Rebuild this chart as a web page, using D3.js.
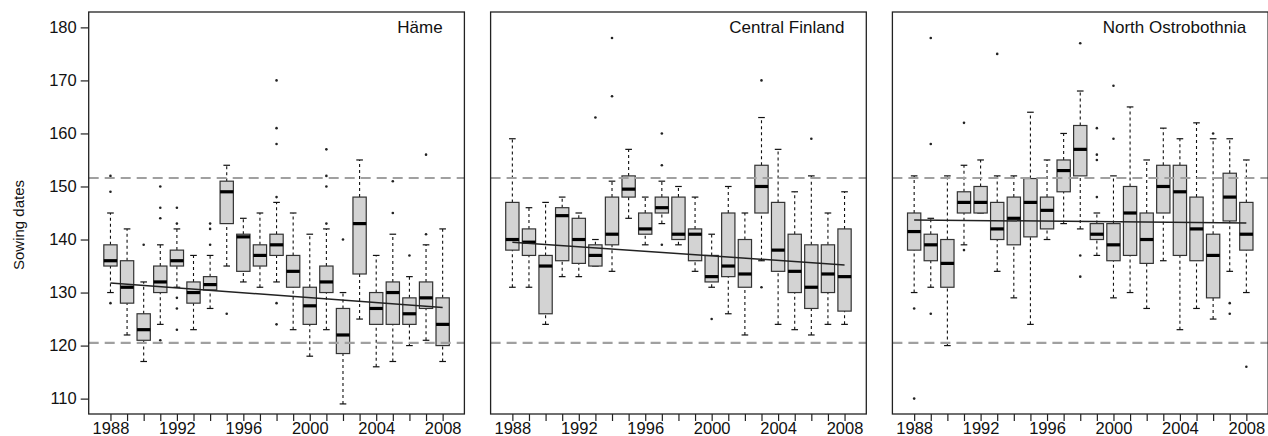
<!DOCTYPE html>
<html lang="en">
<head>
<meta charset="utf-8">
<title>Sowing dates</title>
<script src="https://cdn.jsdelivr.net/npm/d3@7"></script>
<style>
  body { margin: 0; background: #fff; }
  svg text { font-family: "Liberation Sans", Arial, sans-serif; fill: #111; }
  .axis path { display: none; }
  .axis line { stroke: #222; stroke-width: 1.2; }
  .axis text { font-size: 16.5px; }
</style>
</head>
<body>
<div class="chart"></div>
<script>
// years on the x axis
var years = d3.range(1988, 2009);
var yTicks = [110, 120, 130, 140, 150, 160, 170, 180];
var labelYears = [1988, 1992, 1996, 2000, 2004, 2008];
var refLines = [151.6, 120.5];

// box stats per year: [lower whisker, q1, median, q3, upper whisker]
var hameStats = [
  [130,135,136,139,145],[122,128,131,136,142],[117,121,123,126,132],[124,130,132,135,139],
  [131,135,136,138,142],[123,128,130,132,137],[127,130.5,131.5,133,137],[135,143,149,151,154],
  [132,134,140.5,141,144],[131,135,137,139,145],[132,137,139,141,147],[123,131,134,137,145],
  [118,124,127.5,131,141],[123,130,132,135,142],[109,118.5,122,127,130],[125,133.5,143,148,155],
  [116,124,127,130,137],[117,124,130,132,141],[120,124,126,129,133],[121,127,129,132,139],
  [117,120,124,129,142]
];
var hameOut = [
  [152,149,128],[],[139],[150,146,144,121],[146,143,129,127,123],[],[143,142,139],[126],
  [],[],[170,161,158,148,128,124],[],[],[157,152,150,143],[140],[],[],[151,145],[137],[156,141],[]
];
var hameTrend = [131.8, 127.2];

var centralStats = [
  [131,138,140,147,159],[131,137,139.5,142,146],[124,126,135,137,147],[133,136,144.5,146,148],
  [133,135.5,140,144,145],[135,135,137,139,140],[134,139,141,148,151],[144,148,149.5,152,157],
  [139,141,142,145,148],[143,145,146,148,151],[139,140,141,148,150],[134,136,141,142,148],
  [131,132,133,137,141],[126,133,135,145,150],[122,131,133.5,140,145],[136,145,150,154,163],
  [124,134,138,147,157],[123,130,134,141,149],[122,127,131,139,152],[124,130,133.5,139,145],
  [124,126.5,133,142,149]
];
var centralOut = [
  [],[],[],[],[],[163],[178,167],[],[],[160,154,139],[],[],[125],[],[],[170,131],[],[],[159],[],[]
];
var centralTrend = [139.5, 135.2];

var northStats = [
  [130,138,141.5,145,152],[131,136,139,141,144],[120,131,135.5,140,152],[139,145,147,149,154],
  [145,145,147,150,155],[134,140,142,147,152],[129,139,144,148,152],[124,140.5,147,151.5,164],
  [140,142,145.5,148,155],[143,149,153,155,160],[142,152,157,161.5,168],[137,140,141,143,145],
  [129,136,139,143,152],[130,137,145,150,165],[127,135.5,140,145,155],[136,145,150,154,161],
  [123,137,149,154,159],[127,136,142,148,162],[125,129,137,141,159],[134,143.5,148,152.5,159],
  [130,138,141,147,155]
];
var northOut = [
  [127,110],[178,158,126],[],[162,138],[],[175],[],[],[],[],[177,137,133],[161,156,155,148],
  [169,159],[],[],[],[],[],[160],[128,126],[116]
];
var northTrend = [143.7, 143.1];

var panels = [
  {name: "Häme", stats: hameStats, out: hameOut, trend: hameTrend},
  {name: "Central Finland", stats: centralStats, out: centralOut, trend: centralTrend},
  {name: "North Ostrobothnia", stats: northStats, out: northOut, trend: northTrend}
];

var w = 1268, h = 436;
var plotTop = 12, plotBottom = 414;
var panelW = 375.7;
var lefts = [88.7, 490.6, 892.4];

var svg = d3.select("div.chart").append("svg")
  .attr("width", w).attr("height", h)
  .style("display", "block");

var y = d3.scaleLinear().domain([107.1, 182.9]).range([plotBottom, plotTop]);

panels.forEach(function(p, k) {
  var x = d3.scaleLinear().domain([1986.69, 2009.31]).range([lefts[k], lefts[k] + panelW]);
  var unit = x(1989) - x(1988);
  var bw = unit * 0.8, sw = unit * 0.4;
  var g = svg.append("g");

  var box = g.selectAll(".box")
    .data(p.stats)
    .enter().append("g")
    .attr("class", "box");

  // whiskers
  box.append("line")
    .attr("x1", (d, i) => x(years[i])).attr("x2", (d, i) => x(years[i]))
    .attr("y1", d => y(d[3])).attr("y2", d => y(d[4]))
    .attr("stroke", "#111").attr("stroke-width", 1.1).attr("stroke-dasharray", "3,3");
  box.append("line")
    .attr("x1", (d, i) => x(years[i])).attr("x2", (d, i) => x(years[i]))
    .attr("y1", d => y(d[0])).attr("y2", d => y(d[1]))
    .attr("stroke", "#111").attr("stroke-width", 1.1).attr("stroke-dasharray", "3,3");
  // staples
  [0, 4].forEach(function(j) {
    box.append("line")
      .attr("x1", (d, i) => x(years[i]) - sw / 2).attr("x2", (d, i) => x(years[i]) + sw / 2)
      .attr("y1", d => y(d[j])).attr("y2", d => y(d[j]))
      .attr("stroke", "#111").attr("stroke-width", 1.2);
  });
  box.append("rect")
    .attr("x", (d, i) => x(years[i]) - bw / 2)
    .attr("width", bw)
    .attr("y", d => y(d[3]))
    .attr("height", d => y(d[1]) - y(d[3]))
    .attr("fill", "#d3d3d3").attr("stroke", "#333").attr("stroke-width", 1.2);
  box.append("line")
    .attr("x1", (d, i) => x(years[i]) - bw / 2).attr("x2", (d, i) => x(years[i]) + bw / 2)
    .attr("y1", d => y(d[2])).attr("y2", d => y(d[2]))
    .attr("stroke", "#000").attr("stroke-width", 3.2);

  // outliers
  p.out.forEach(function(vals, i) {
    g.selectAll(null).data(vals).enter().append("circle")
      .attr("cx", x(years[i])).attr("cy", d => y(d))
      .attr("r", 1.3).attr("fill", "#222");
  });

  // reference lines
  g.selectAll(".ref").data(refLines).enter().append("line")
    .attr("x1", lefts[k]).attr("x2", lefts[k] + panelW)
    .attr("y1", d => y(d)).attr("y2", d => y(d))
    .attr("stroke", "#a0a0a0").attr("stroke-width", 2.2).attr("stroke-dasharray", "10,6");

  // trend line
  g.append("line")
    .attr("x1", x(1988)).attr("x2", x(2008))
    .attr("y1", y(p.trend[0])).attr("y2", y(p.trend[1]))
    .attr("stroke", "#222").attr("stroke-width", 1.5);

  // frame
  g.append("rect")
    .attr("x", lefts[k]).attr("y", plotTop)
    .attr("width", panelW).attr("height", plotBottom - plotTop)
    .attr("fill", "none").attr("stroke", "#222").attr("stroke-width", 1.3);

  // x axis
  g.append("g").attr("class", "axis")
    .attr("transform", "translate(0," + plotBottom + ")")
    .call(d3.axisBottom(x).tickValues(years).tickSize(7).tickPadding(1)
      .tickFormat(d => labelYears.indexOf(d) >= 0 ? d : ""));

  // panel title
  g.append("text")
    .attr("x", x(2008)).attr("y", y(180)).attr("dy", "0.35em")
    .attr("text-anchor", "end").style("font-size", "17px")
    .text(p.name);

  if (k === 0) {
    g.append("g").attr("class", "axis")
      .attr("transform", "translate(" + lefts[0] + ",0)")
      .call(d3.axisLeft(y).tickValues(yTicks).tickSize(8).tickPadding(4));
    g.append("text")
      .attr("transform", "translate(18.5,225) rotate(-90)")
      .attr("text-anchor", "middle").attr("dy", "0.35em")
      .style("font-size", "15px")
      .text("Sowing dates");
  }
});
</script>
</body>
</html>
